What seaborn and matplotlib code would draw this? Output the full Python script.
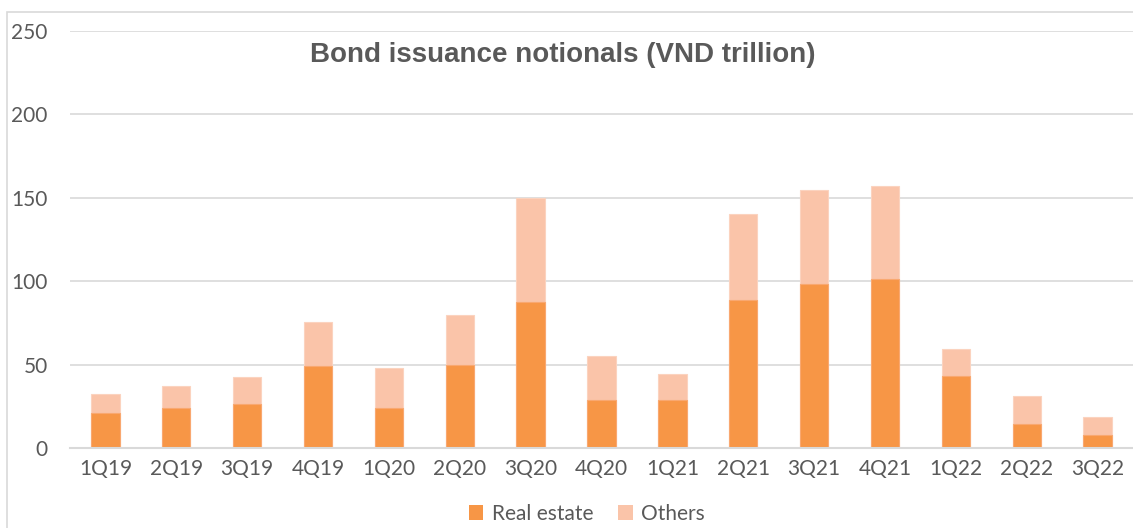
import pandas as pd
import seaborn as sns
import matplotlib.pyplot as plt
from matplotlib.patches import Patch, Rectangle

# data (VND trillion)
quarters = ['1Q19', '2Q19', '3Q19', '4Q19', '1Q20', '2Q20', '3Q20', '4Q20',
            '1Q21', '2Q21', '3Q21', '4Q21', '1Q22', '2Q22', '3Q22']
real_estate = [21, 24, 26.4, 49.2, 24, 49.6, 87.6, 28.5, 28.7, 88.6, 98.4, 101.4, 43.4, 14.4, 8]
totals = [32.6, 37.2, 42.4, 75.6, 48, 79.8, 149.6, 55, 44.6, 140.2, 154.6, 157.2, 59.2, 31, 18.6]

df = pd.DataFrame({'Quarter': quarters, 'Real estate': real_estate, 'Total': totals})

sns.set_theme(style='white')
plt.rcParams['font.family'] = ['Lato', 'DejaVu Sans']

dark = '#F79646'
light = '#FAC4A9'
txt = '#595959'

fig = plt.figure(figsize=(11.33, 5.28), dpi=100)
ax = fig.add_axes([70 / 1133, 80 / 528, 1063 / 1133, 417 / 528])

# stacked: total bar behind, real estate in front
sns.barplot(data=df, x='Quarter', y='Total', color=light, width=0.4,
            edgecolor='#FBD3BF', linewidth=0.8, ax=ax, saturation=1)
sns.barplot(data=df, x='Quarter', y='Real estate', color=dark, width=0.4,
            edgecolor='#F9A870', linewidth=0.8, ax=ax, saturation=1)

ax.set_ylim(0, 250)
ax.set_xlim(-0.5, len(quarters) - 0.5)
ax.set_yticks(range(0, 251, 50))
ax.yaxis.grid(True, color='#D9D9D9', lw=1.2)
ax.set_axisbelow(True)
for s in ['top', 'right', 'left']:
    ax.spines[s].set_visible(False)
ax.spines['bottom'].set_color('#D9D9D9')
ax.spines['bottom'].set_linewidth(1.5)
ax.tick_params(axis='both', length=0, labelsize=15, labelcolor=txt)
ax.tick_params(axis='y', pad=16)
ax.tick_params(axis='x', pad=8)
ax.set_xlabel('')
ax.set_ylabel('')

fig.text(0.497, 0.896, 'Bond issuance notionals (VND trillion)',
         ha='center', va='center', fontsize=20, fontweight='bold', color=txt,
         family=['Liberation Sans Narrow', 'Liberation Sans', 'DejaVu Sans'])

handles = [Patch(facecolor=dark, edgecolor='none'), Patch(facecolor=light, edgecolor='none')]
fig.legend(handles, ['Real estate', 'Others'], loc='center', bbox_to_anchor=(0.518, 0.027),
           ncol=2, frameon=False, fontsize=15, labelcolor=txt, handlelength=0.7,
           handleheight=0.7, handletextpad=0.4, columnspacing=1.2)

# outer chart border
fig.patches.append(Rectangle((7 / 1133, -0.1), 1.2, 1 - 12 / 528 + 0.1,
                             transform=fig.transFigure, fill=False,
                             edgecolor='#D9D9D9', lw=1.2))

fig.savefig('out.png', dpi=100)
